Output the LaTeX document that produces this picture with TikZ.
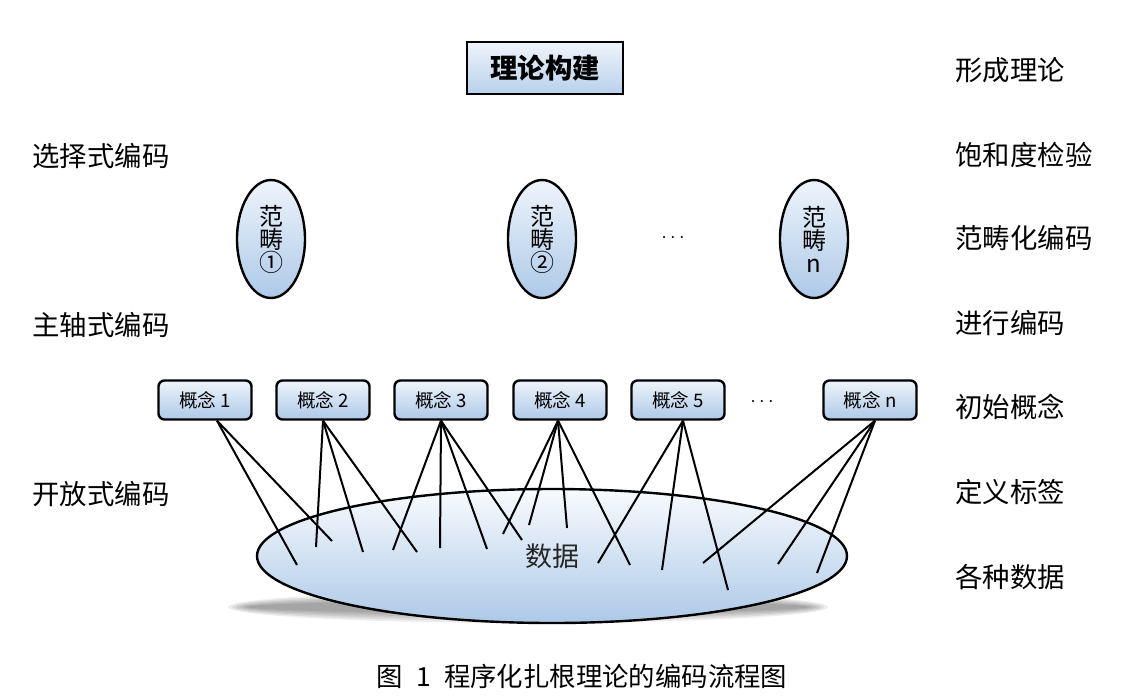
\documentclass[tikz,border=0pt]{standalone}
\usepackage{fontspec}
\setmainfont{Noto Sans CJK SC}
\usetikzlibrary{shapes.geometric}

\definecolor{paleblue}{HTML}{EEF4FB}
\definecolor{midblue}{HTML}{ADC9E8}

\tikzset{
  concept/.style={draw, line width=1.2pt, rounded corners=3pt, top color=paleblue, bottom color=midblue,
    minimum width=46.5pt, minimum height=19.5pt, inner sep=0pt, font=\fontsize{9.3}{10}\selectfont},
  category/.style={draw, ellipse, line width=1.2pt, top color=paleblue, bottom color=midblue,
    minimum width=34pt, minimum height=59pt, inner sep=0pt, align=center, font=\fontsize{12}{11.5}\selectfont},
  sidelabel/.style={anchor=west, inner sep=0pt, font=\fontsize{13.7}{14}\selectfont},
  link/.style={line width=1pt},
}

\begin{document}
\begin{tikzpicture}[x=0.5pt, y=-0.5pt]
\useasboundingbox (0,0) rectangle (1130,698);

% left and right labels
\node[sidelabel] (sel) at (32,156) {选择式编码};
\node[sidelabel] (axi) at (32,325) {主轴式编码};
\node[sidelabel] (opn) at (32,494) {开放式编码};
\node[sidelabel] (r1) at (955,70) {形成理论};
\node[sidelabel] (r2) at (955,155) {饱和度检验};
\node[sidelabel] (r3) at (955,238) {范畴化编码};
\node[sidelabel] (r4) at (955,323) {进行编码};
\node[sidelabel] (r5) at (955,407) {初始概念};
\node[sidelabel] (r6) at (955,492) {定义标签};
\node[sidelabel] (r7) at (955,577) {各种数据};

% theory box
\node[draw, line width=1.2pt, top color=paleblue, bottom color=midblue!85, minimum width=78pt, minimum height=26pt,
  font=\fontsize{13.7}{14}\selectfont\bfseries] (theory) at (545,68) {理论构建};

% categories
\node[category] (k1) at (271,239) {范\\畴\\①};
\node[category] (k2) at (542,239) {范\\畴\\②};
\node[category] (kn) at (814,239) {范\\畴\\n};
\node (kdots) at (673,238) {$\cdots$};

% data ellipse with soft shadow
\foreach \i in {0,...,5}
  \fill[black, opacity=0.07] (528,607) ellipse [x radius=150pt-\i*2pt, y radius=8pt-\i*1pt];
\node[draw, ellipse, line width=1.2pt, top color=white!60!paleblue, bottom color=midblue,
  minimum width=295pt, minimum height=67pt, font=\fontsize{13.5}{14}\selectfont, text=black!85] (data) at (552,556) {数据};

% concepts
\node[concept] (c1) at (205,400) {概念 1};
\node[concept] (c2) at (323,400) {概念 2};
\node[concept] (c3) at (441,400) {概念 3};
\node[concept] (c4) at (560,400) {概念 4};
\node[concept] (c5) at (678,400) {概念 5};
\node (cdots) at (762,402) {$\cdots$};
\node[concept] (cn) at (870,400) {概念 n};

% start points
\coordinate (s1) at ([xshift=6pt]c1.south);
\coordinate (s2) at (c2.south);
\coordinate (s3) at (c3.south);
\coordinate (s4) at ([xshift=-1pt]c4.south);
\coordinate (s5) at ([xshift=2.5pt]c5.south);
\coordinate (sn) at ([xshift=2.5pt]cn.south);

% free ends in the data
\coordinate (d1) at (297,565);  \coordinate (d2) at (332,541);
\coordinate (d3) at (316,547);  \coordinate (d4) at (363,552);  \coordinate (d5) at (417,552);
\coordinate (d6) at (393,550);  \coordinate (d7) at (440,548);  \coordinate (d8) at (487,549);  \coordinate (d9) at (522,540);
\coordinate (d10) at (503,534); \coordinate (d11) at (529,525); \coordinate (d12) at (567,528); \coordinate (d13) at (630,565);
\coordinate (d14) at (598,563); \coordinate (d15) at (662,570); \coordinate (d16) at (728,590);
\coordinate (d17) at (703,563); \coordinate (d18) at (778,564); \coordinate (d19) at (817,573);

% edges
\foreach \s/\d in {s1/d1, s1/d2, s2/d3, s2/d4, s2/d5, s3/d6, s3/d7, s3/d8, s3/d9,
                   s4/d10, s4/d11, s4/d12, s4/d13, s5/d14, s5/d15, s5/d16, sn/d17, sn/d18, sn/d19}
  \draw[link] (\s) -- (\d);

% caption
\node[font=\fontsize{13.2}{14}\selectfont] (cap) at (582,676) {图\enspace 1\enspace 程序化扎根理论的编码流程图};
\end{tikzpicture}
\end{document}
